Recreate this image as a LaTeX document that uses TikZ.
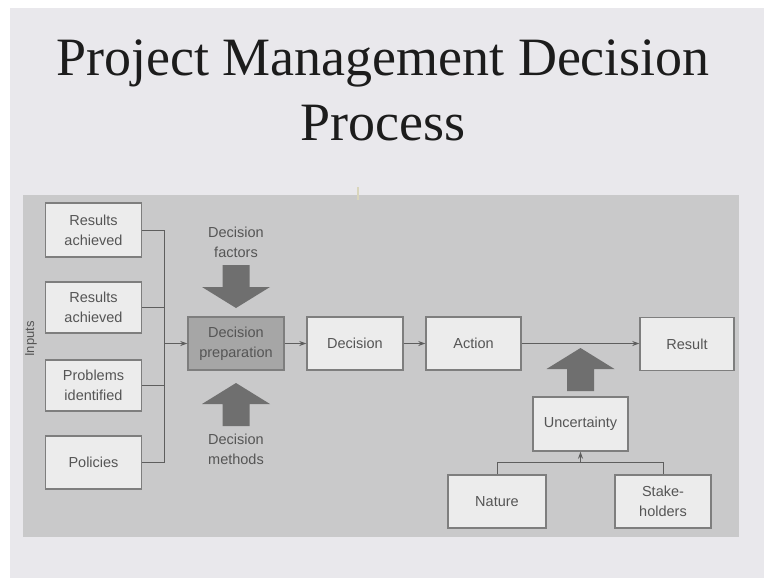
\documentclass[tikz,border=0pt]{standalone}
\usepackage{fontspec}
\setmainfont{Liberation Serif}
\newfontfamily\boxfont{Liberation Sans}
\usetikzlibrary{arrows.meta}
\definecolor{slidebg}{HTML}{E9E8EC}
\definecolor{panelbg}{HTML}{C9C9CA}
\definecolor{boxfill}{HTML}{ECECEC}
\definecolor{boxline}{HTML}{7E7E7E}
\definecolor{prepfill}{HTML}{A6A6A6}
\definecolor{fatgray}{HTML}{6F6F6F}
\definecolor{labeltext}{HTML}{555555}
\definecolor{wire}{HTML}{5E5E5E}
\definecolor{titletext}{HTML}{1C1C1C}
\definecolor{tickmark}{HTML}{D9D5BC}
\begin{document}
\begin{tikzpicture}[x=1pt,y=-1pt,
  box/.style={draw=boxline,line width=1.4pt,fill=boxfill,minimum width=96pt,minimum height=53pt,
    inner sep=2pt,align=center,text=labeltext,font=\boxfont\fontsize{14.5}{20}\selectfont},
  prepbox/.style={box,fill=prepfill},
  plain/.style={text=labeltext,align=center,font=\boxfont\fontsize{14.5}{20}\selectfont},
  wireline/.style={draw=wire,line width=1pt},
  flow/.style={wireline,-{Stealth[length=7pt,width=5pt]}},
  fatarrow/.pic={\fill[fatgray] (0,0) -- (34,21) -- (13.5,21) -- (13.5,43) -- (-13.5,43) -- (-13.5,21) -- (-34,21) -- cycle;}
]
\useasboundingbox (0,0) rectangle (764,579);
% slide and diagram panel
\fill[white] (0,0) rectangle (764,579);
\fill[slidebg] (10,8) rectangle (764,578);
\fill[panelbg] (23,195) rectangle (739,537);
\draw[tickmark,line width=1.5pt] (358,187) -- (358,200);

% title
\node[anchor=base,text=titletext,font=\fontsize{54}{65}\selectfont] (title1) at (383,75) {Project Management Decision};
\node[anchor=base,text=titletext,font=\fontsize{54}{65}\selectfont] (title2) at (383,140) {Process};

% inputs
\node[box,minimum height=54pt] (ra1) at (93.5,230) {Results\\achieved};
\node[box,minimum height=51pt] (ra2) at (93.5,307.5) {Results\\achieved};
\node[box,minimum height=51pt] (pi) at (93.5,385.5) {Problems\\identified};
\node[box] (pol) at (93.5,462.5) {Policies};
\node[plain,rotate=90,font=\boxfont\fontsize{13}{16}\selectfont] (inputs) at (31,339) {Inputs};

% main chain
\node[prepbox] (prep) at (236,343.5) {Decision\\preparation};
\node[box] (dec) at (355,343.5) {Decision};
\node[box,minimum width=95pt] (act) at (473.5,343.5) {Action};
\node[box,minimum width=94pt] (res) at (687,344) {Result};

% uncertainty branch
\node[box,minimum width=95pt,minimum height=54pt] (unc) at (580.5,424) {Uncertainty};
\node[box,minimum width=98pt] (nat) at (497,501.5) {Nature};
\node[box] (stk) at (663,501.5) {Stake-\\holders};

% decision factors / methods
\node[plain] (factors) at (236,242) {Decision\\factors};
\node[plain] (methods) at (236,449) {Decision\\methods};
\pic at (236,308) [rotate=180] {fatarrow};
\pic at (236,383) {fatarrow};
\pic at (580.5,348) {fatarrow};

% connectors
\coordinate (bus) at (164,343.5);
\draw[wireline] (ra1.east) -| (bus);
\draw[wireline] (ra2.east) -| (bus);
\draw[wireline] (pi.east) -| (bus);
\draw[wireline] (pol.east) -| (bus);
\draw[flow] (bus) -- (prep.west);
\draw[flow] (prep.east) -- (dec.west);
\draw[flow] (dec.east) -- (act.west);
\draw[flow] (act.east) -- (act.east -| res.west);

\coordinate (ubus) at (580.5,462);
\draw[wireline] (nat.north) |- (ubus);
\draw[wireline] (stk.north) |- (ubus);
\draw[flow] (ubus) -- (unc.south);
\end{tikzpicture}
\end{document}
